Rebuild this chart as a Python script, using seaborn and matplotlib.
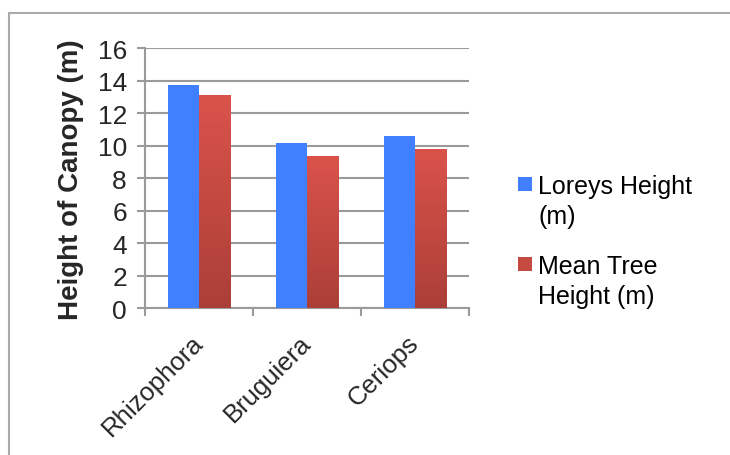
import numpy as np
import pandas as pd
import matplotlib
matplotlib.use("Agg")
import matplotlib.pyplot as plt
import seaborn as sns
from matplotlib.patches import Rectangle
from matplotlib.colors import LinearSegmentedColormap

# Canopy height by mangrove genus
genera = ["Rhizophora", "Bruguiera", "Ceriops"]
loreys_height = [13.75, 10.2, 10.6]
mean_tree_height = [13.1, 9.4, 9.8]
series_names = ["Loreys Height (m)", "Mean Tree Height (m)"]
legend_labels = ["Loreys Height\n(m)", "Mean Tree\nHeight (m)"]
y_ticks = [0, 2, 4, 6, 8, 10, 12, 14, 16]

df = pd.DataFrame({
    "Genus": genera * 2,
    "Series": [series_names[0]] * 3 + [series_names[1]] * 3,
    "Height": loreys_height + mean_tree_height,
})

sns.set_theme(style="white")
plt.rcParams["font.family"] = ["Liberation Sans", "DejaVu Sans"]

blue = "#4080ff"
red_top, red_bottom = "#da534b", "#ab3f37"
grid_col = "#9a9a9a"
fs = 18

fig = plt.figure(figsize=(7.3, 4.56), dpi=100)
W, H = 730, 456
ax = fig.add_axes([145 / W, 1 - 309.3 / H, (469 - 145) / W, 260 / H])

sns.barplot(data=df, x="Genus", y="Height", hue="Series", order=genera,
            hue_order=series_names, palette=[blue, red_top], width=0.58,
            saturation=1, ax=ax, legend=False, zorder=3)

# Vertical gradient fill for the red series
red_cmap = LinearSegmentedColormap.from_list("redgrad", [red_bottom, red_top])
grad = np.linspace(0, 1, 256).reshape(-1, 1)
for bar in ax.containers[1]:
    x0, y0 = bar.get_x(), bar.get_y()
    w, h = bar.get_width(), bar.get_height()
    im = ax.imshow(grad, cmap=red_cmap, aspect="auto", origin="lower",
                   extent=(x0, x0 + w, y0, y0 + h), zorder=3.5)
    im.set_clip_path(bar)
for bar in ax.patches:
    bar.set_edgecolor("none")

ax.set_ylim(0, 16)
ax.set_xlim(-0.5, 2.5)
ax.set_yticks(y_ticks)
ax.set_yticklabels([str(t) for t in y_ticks], fontsize=fs + 1)
ax.yaxis.grid(True, color=grid_col, linewidth=1.5, zorder=0)
ax.xaxis.grid(False)
ax.set_axisbelow(True)

# Category boundaries carry the tick marks; labels sit at the centres
ax.set_xticks([-0.5, 0.5, 1.5, 2.5])
ax.set_xticklabels([])
ax.set_xticks([0, 1, 2], minor=True)
ax.set_xticklabels(genera, minor=True, fontsize=fs + 0.5, rotation=45,
                   ha="right", va="center", rotation_mode="anchor")
ax.tick_params(axis="x", which="major", direction="out", length=6,
               width=1.5, color=grid_col, bottom=True)
ax.tick_params(axis="x", which="minor", length=0, pad=22, bottom=True)
ax.tick_params(axis="y", direction="out", length=6, width=1.5,
               color=grid_col, left=True, pad=7)

for side in ["top", "right"]:
    ax.spines[side].set_visible(False)
for side in ["left", "bottom"]:
    ax.spines[side].set_color(grid_col)
    ax.spines[side].set_linewidth(1.5)

ax.set_xlabel("")
ax.set_ylabel("Height of Canopy (m)", fontsize=20, fontweight="bold", labelpad=10)

# Legend: swatch aligned with the first line of each wrapped label
legend_colors = [blue, "#c44a42"]
legend_tops = [178, 258]
for color, label, top in zip(legend_colors, legend_labels, legend_tops):
    fig.patches.append(Rectangle((518 / W, 1 - (top + 14) / H), 14 / W, 14 / H,
                                 transform=fig.transFigure, facecolor=color,
                                 edgecolor="none"))
    fig.text(538 / W, 1 - (top - 3) / H, label, fontsize=fs, va="top",
             ha="left", linespacing=1.32, color="black")

# Chart area frame
fig.patches.append(Rectangle((9 / W, -0.2), 1.2, 0.2 + (H - 14) / H,
                             transform=fig.transFigure, fill=False,
                             edgecolor="#aaaaaa", linewidth=1.5))

fig.savefig("out.png", dpi=100)
